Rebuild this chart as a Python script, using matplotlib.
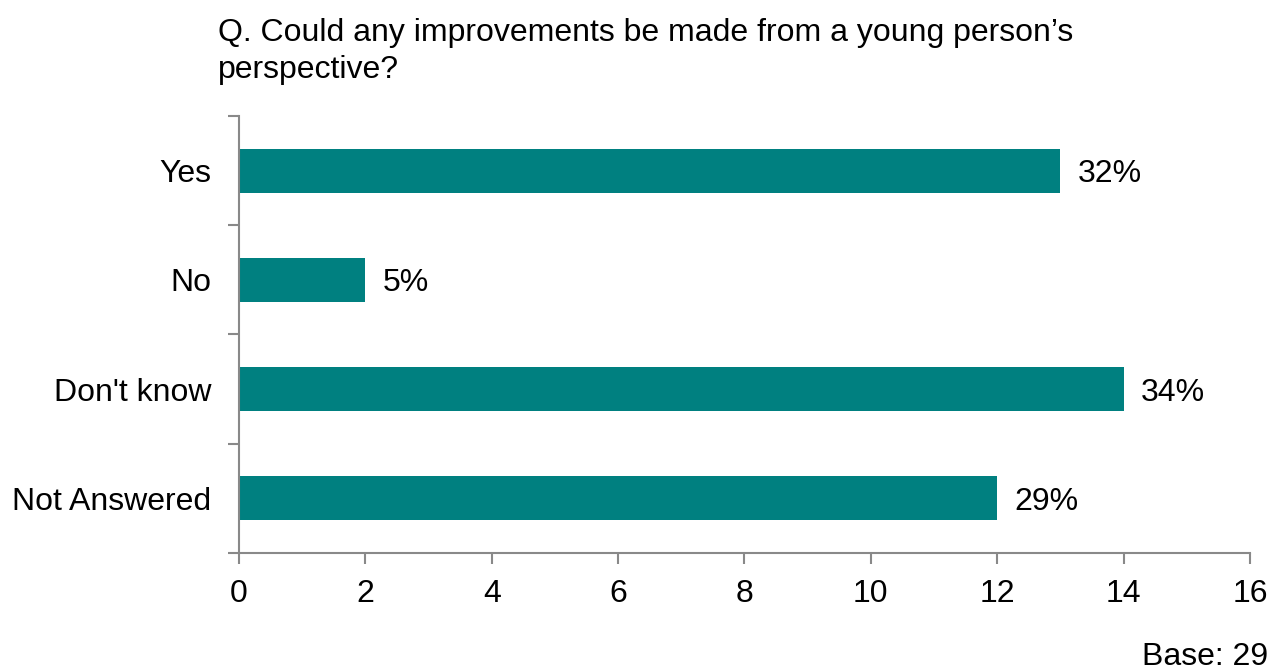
import matplotlib
matplotlib.use("Agg")
import matplotlib.pyplot as plt
from matplotlib.ticker import FixedLocator, NullFormatter

plt.rcParams['font.family'] = ['Liberation Sans', 'DejaVu Sans']

categories = ["Yes", "No", "Don't know", "Not Answered"]
counts = [13, 2, 14, 12]
pct_labels = ["32%", "5%", "34%", "29%"]
x_ticks = [0, 2, 4, 6, 8, 10, 12, 14, 16]

bar_color = "#008080"
axis_color = "#898989"
fs = 23

fig = plt.figure(figsize=(12.71, 6.71), dpi=100)
ax = fig.add_axes([0.188, 0.176, 0.7955, 0.651])

y = list(range(len(categories)))
ax.barh(y, counts, height=0.4, color=bar_color)
for yi, v, lab in zip(y, counts, pct_labels):
    ax.text(v + 0.27, yi, lab, va="center_baseline", ha="left", fontsize=fs, color="black")

ax.set_xlim(0, 16)
ax.set_ylim(len(categories) - 0.5, -0.5)
ax.set_xticks(x_ticks)
ax.set_xticklabels([str(t) for t in x_ticks], fontsize=fs)

# category boundaries get the tick marks, centres get the labels
ax.yaxis.set_major_locator(FixedLocator([i - 0.5 for i in range(len(categories) + 1)]))
ax.yaxis.set_major_formatter(NullFormatter())
ax.yaxis.set_minor_locator(FixedLocator(y))
ax.set_yticklabels(categories, minor=True, fontsize=fs)
ax.tick_params(axis="y", which="minor", length=0, pad=20)
ax.tick_params(axis="y", which="major", length=8, width=1.5, color=axis_color, direction="out")
ax.tick_params(axis="x", length=8, width=1.5, color=axis_color, direction="out", pad=11)

for s in ["top", "right"]:
    ax.spines[s].set_visible(False)
for s in ["left", "bottom"]:
    ax.spines[s].set_color(axis_color)
    ax.spines[s].set_linewidth(1.5)

fig.text(218 / 1271, 1 - 18 / 671, "Q. Could any improvements be made from a young person\u2019s\nperspective?",
         ha="left", va="top", fontsize=fs, linespacing=1.32)
fig.text(1268 / 1271, 1 - 665 / 671, "Base: 29", ha="right", va="baseline", fontsize=fs)

fig.savefig("out.png", dpi=100)
